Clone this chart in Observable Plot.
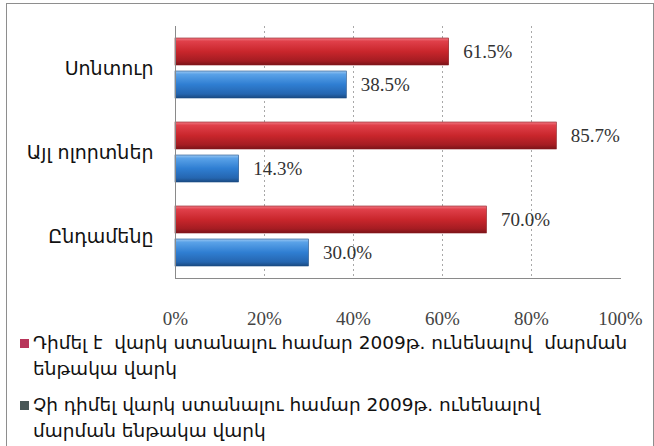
<!DOCTYPE html>
<html>
<head>
<meta charset="utf-8">
<script src="https://cdn.jsdelivr.net/npm/d3@7"></script>
<script src="https://cdn.jsdelivr.net/npm/@observablehq/plot@0.6"></script>
<style>
  html, body { margin: 0; padding: 0; background: #fff; }
  #frame {
    position: absolute; left: 6px; top: 3px; width: 648px; height: 460px;
    box-sizing: border-box; border: 1px solid #8e8e8e; background: #fff;
  }
  #chart { position: absolute; left: 0; top: 0; }
  #legend {
    position: absolute; left: 13px; top: 326px; width: 634px;
    font-family: "DejaVu Sans", sans-serif; font-size: 18.5px; color: #111;
  }
  .item { display: flex; align-items: flex-start; line-height: 26px; white-space: pre; }
  .item + .item { margin-top: 10px; }
  .sw { flex: none; width: 9px; height: 9px; margin: 9px 4px 0 0; }
</style>
</head>
<body>
<div id="frame">
  <div id="chart"></div>
  <div id="legend"></div>
</div>
<script>
const categories = ["Սոնտուր", "Այլ ոլորտներ", "Ընդամենը"];
const seriesNames = [
  "Դիմել է  վարկ ստանալու համար 2009թ. ունենալով  մարման ենթակա վարկ",
  "Չի դիմել վարկ ստանալու համար 2009թ. ունենալով մարման ենթակա վարկ"
];
const legendLines = [
  ["Դիմել է  վարկ ստանալու համար 2009թ. ունենալով  մարման", "ենթակա վարկ"],
  ["Չի դիմել վարկ ստանալու համար 2009թ. ունենալով", "մարման ենթակա վարկ"]
];
const applied = [61.5, 85.7, 70.0];
const notApplied = [38.5, 14.3, 30.0];
const xTicks = [0, 20, 40, 60, 80, 100];
const gridTicks = [20, 40, 60, 80];
const seriesKeys = ["a", "b"];

const data = [];
categories.forEach((c, i) => {
  data.push({cat: c, s: "a", value: applied[i]});
  data.push({cat: c, s: "b", value: notApplied[i]});
});

const defs = () => {
  const d = d3.create("svg:defs");
  const red = d.append("linearGradient").attr("id", "gRed").attr("x1", 0).attr("y1", 0).attr("x2", 0).attr("y2", 1);
  [[0, "#f07a84"], [0.12, "#e0404a"], [0.5, "#c9262c"], [0.85, "#a41c22"], [1, "#7a1418"]]
    .forEach(([o, c]) => red.append("stop").attr("offset", o).attr("stop-color", c));
  const blue = d.append("linearGradient").attr("id", "gBlue").attr("x1", 0).attr("y1", 0).attr("x2", 0).attr("y2", 1);
  [[0, "#9cc8f2"], [0.12, "#5aa2e8"], [0.5, "#2f7ed2"], [0.85, "#2566b0"], [1, "#1a4a82"]]
    .forEach(([o, c]) => blue.append("stop").attr("offset", o).attr("stop-color", c));
  return d.node();
};

const serif = "'Liberation Serif', 'DejaVu Serif', serif";

const chart = Plot.plot({
  width: 646,
  height: 324,
  marginLeft: 168,
  marginRight: 33,
  marginTop: 21,
  marginBottom: 50,
  style: {fontFamily: "'DejaVu Sans', sans-serif", background: "transparent", overflow: "visible"},
  x: {domain: [0, 100]},
  y: {domain: seriesKeys, axis: null, paddingInner: 0.18, paddingOuter: 0.33},
  fy: {domain: categories, padding: 0},
  marks: [
    defs,
    Plot.ruleX(gridTicks, {stroke: "#a8a8a8", strokeDasharray: "2,3", strokeWidth: 1}),
    Plot.barX(data.filter(d => d.s === "a"), {fy: "cat", y: "s", x: "value", fill: "url(#gRed)", stroke: "#8a1a1e", strokeWidth: 0.6}),
    Plot.barX(data.filter(d => d.s === "b"), {fy: "cat", y: "s", x: "value", fill: "url(#gBlue)", stroke: "#1d4f88", strokeWidth: 0.6}),
    Plot.ruleX([0], {stroke: "#8a8a8a"}),
    Plot.frame({anchor: "bottom", fy: ["Ընդամենը"], stroke: "#8a8a8a"}),
    Plot.text(data, {fy: "cat", y: "s", x: "value", text: d => d.value.toFixed(1) + "%", textAnchor: "start", dx: 14,
      fontFamily: serif, fontSize: 19, fill: "#333"}),
    Plot.axisFy({anchor: "left", tickSize: 0, tickPadding: 22, fontSize: 19, label: null, fill: "#111"}),
    Plot.axisX({anchor: "bottom", ticks: xTicks, tickFormat: d => d + "%", tickSize: 0, tickPadding: 33,
      fontFamily: serif, fontSize: 19, fill: "#444", label: null})
  ]
});
document.getElementById("chart").appendChild(chart);

const colors = ["#b8355a", "#4a5858"];
const legend = document.getElementById("legend");
legendLines.forEach((lines, i) => {
  const item = document.createElement("div");
  item.className = "item";
  item.title = seriesNames[i];
  const sw = document.createElement("span");
  sw.className = "sw";
  sw.style.background = colors[i];
  const txt = document.createElement("span");
  txt.textContent = lines.join("\n");
  item.appendChild(sw);
  item.appendChild(txt);
  legend.appendChild(item);
});
</script>
</body>
</html>
